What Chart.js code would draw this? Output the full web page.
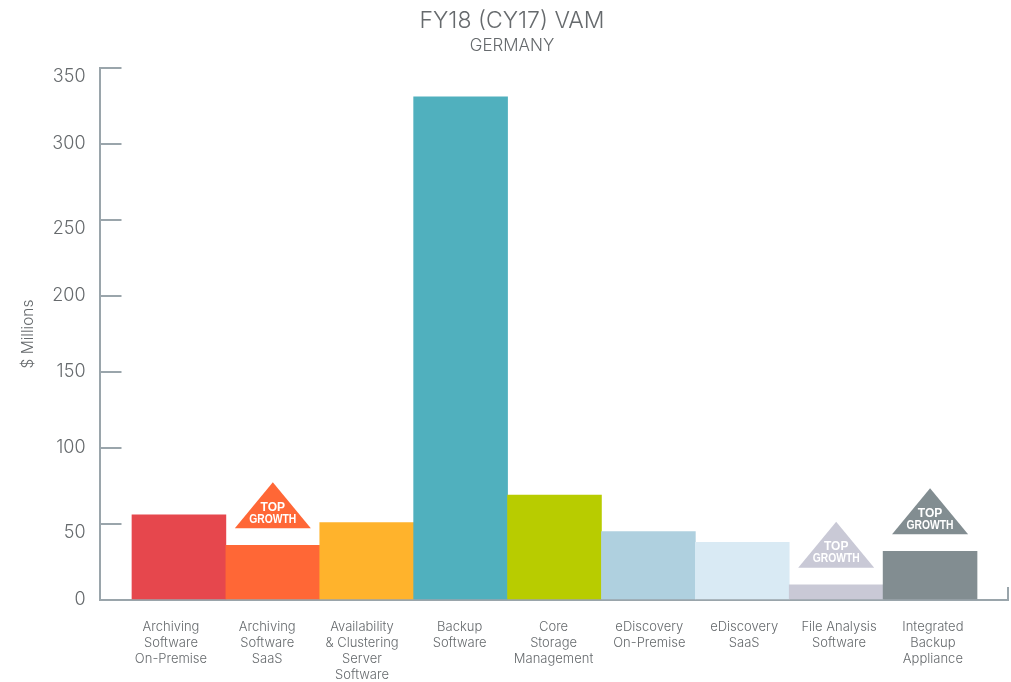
<!DOCTYPE html>
<html>
<head>
<meta charset="utf-8">
<title>FY18 (CY17) VAM</title>
<script src="https://cdn.jsdelivr.net/npm/chart.js@4"></script>
<style>
  html, body { margin: 0; padding: 0; background: #fff; }
  canvas { display: block; }
</style>
</head>
<body>
<canvas id="vamChart" width="1011" height="682"></canvas>
<script>
const CATEGORIES = [
    ['Archiving', 'Software', 'On-Premise'],
    ['Archiving', 'Software', 'SaaS'],
    ['Availability', '& Clustering', 'Server', 'Software'],
    ['Backup', 'Software'],
    ['Core', 'Storage', 'Management'],
    ['eDiscovery', 'On-Premise'],
    ['eDiscovery', 'SaaS'],
    ['File Analysis', 'Software'],
    ['Integrated', 'Backup', 'Appliance'],
];
const VALUES = [56, 36, 51, 331, 69, 45, 38, 10, 32];
const COLORS = ['#e6474d', '#ff6736', '#ffb32c', '#50b0be', '#b8cc00', '#afd0df', '#d9eaf4', '#c9c9d6', '#828d91'];
const TOP_GROWTH = [1, 7, 8];
const Y_TICK_MAX = 350;
const Y_TICK_STEP = 50;
// labels in the source sit a little off their bar centres
const LABEL_SHIFT = [-0.085, -0.06, -0.05, -0.01, -0.01, 0.01, 0.02, 0.03, 0.03];
// these tick labels sit below their tick mark in the source
const DROPPED_Y_LABELS = [50, 250, 350];

const FONT = 'Inter, Lato, sans-serif';
const AXIS_COLOR = '#9aa5ab';
const TEXT_COLOR = '#666a6d';
const X_MIN = -0.846;
const X_MAX = 8.83;

const growthBadges = {
    id: 'growthBadges',
    afterDatasetsDraw(chart) {
        const ctx = chart.ctx;
        const bars = chart.getDatasetMeta(0).data;
        TOP_GROWTH.forEach(i => {
            const bar = bars[i];
            const base = bar.y - 17;
            ctx.save();
            ctx.fillStyle = COLORS[i];
            ctx.beginPath();
            ctx.moveTo(bar.x, base - 46);
            ctx.lineTo(bar.x + 38, base);
            ctx.lineTo(bar.x - 38, base);
            ctx.closePath();
            ctx.fill();
            ctx.fillStyle = '#fff';
            ctx.textAlign = 'center';
            ctx.textBaseline = 'middle';
            ctx.font = '700 12px "Liberation Sans", sans-serif';
            ctx.fillText('TOP', bar.x, base - 21, 25);
            ctx.fillText('GROWTH', bar.x, base - 9, 47);
            ctx.restore();
        });
    }
};

new Chart(document.getElementById('vamChart'), {
    type: 'bar',
    plugins: [growthBadges],
    data: {
        datasets: [{
            data: VALUES.map((v, i) => ({ x: i, y: v })),
            backgroundColor: COLORS,
            borderWidth: 0,
            // the extra end tick would otherwise narrow the automatic bar width
            barThickness: 93.9
        }]
    },
    options: {
        responsive: false,
        animation: false,
        layout: { padding: { left: 16, right: 3, top: 7, bottom: 0 } },
        plugins: {
            legend: { display: false },
            tooltip: { enabled: false },
            title: {
                display: true,
                text: 'FY18 (CY17) VAM',
                color: TEXT_COLOR,
                font: { family: FONT, size: 23, weight: '300' },
                padding: { top: 0, bottom: 1 }
            },
            subtitle: {
                display: true,
                text: 'GERMANY',
                color: TEXT_COLOR,
                font: { family: FONT, size: 17, weight: '300' },
                padding: { top: 0, bottom: 12 }
            }
        },
        scales: {
            x: {
                type: 'linear',
                offset: false,
                min: X_MIN,
                max: X_MAX,
                afterBuildTicks(scale) {
                    scale.ticks = CATEGORIES.map((c, i) => ({ value: i + LABEL_SHIFT[i] }));
                    scale.ticks.push({ value: X_MAX });
                },
                afterFit(scale) {
                    // tick padding is only used for the label drop here, it should not eat plot width
                    scale.height = 82;
                    scale.paddingLeft = 0;
                    scale.paddingRight = 0;
                },
                border: { color: AXIS_COLOR, width: 2 },
                grid: {
                    offset: false,
                    drawOnChartArea: false,
                    tickLength: -13,
                    lineWidth: 2,
                    color: c => (c.tick && c.tick.value === X_MAX ? AXIS_COLOR : 'rgba(0,0,0,0)')
                },
                ticks: {
                    autoSkip: false,
                    maxRotation: 0,
                    minRotation: 0,
                    padding: 32,
                    color: TEXT_COLOR,
                    font: { family: FONT, size: 13, weight: '300', lineHeight: 1.23 },
                    callback(value, index) { return CATEGORIES[index] || ''; }
                }
            },
            y: {
                min: 0,
                max: Y_TICK_MAX,
                title: {
                    display: true,
                    text: '$ Millions',
                    color: TEXT_COLOR,
                    font: { family: FONT, size: 15.5, weight: '300' },
                    padding: { top: 3, bottom: 0 }
                },
                afterFit(scale) { scale.width = 83.5; },
                border: { color: AXIS_COLOR, width: 2 },
                grid: {
                    drawOnChartArea: false,
                    tickLength: -22,
                    lineWidth: 2,
                    color: AXIS_COLOR
                },
                ticks: {
                    stepSize: Y_TICK_STEP,
                    padding: 36,
                    color: TEXT_COLOR,
                    font: { family: FONT, size: 18, weight: '300', lineHeight: 1 },
                    callback(value) { return DROPPED_Y_LABELS.includes(value) ? ['', String(value)] : String(value); }
                }
            }
        }
    }
});
</script>
</body>
</html>
